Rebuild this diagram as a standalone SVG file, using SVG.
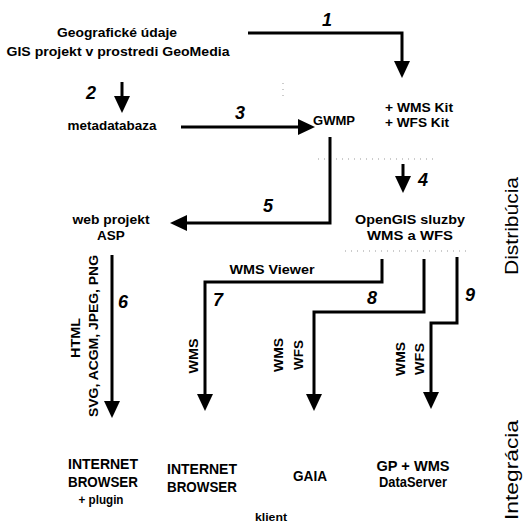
<svg xmlns="http://www.w3.org/2000/svg" width="532" height="524" viewBox="0 0 532 524">
<defs>
<marker id="ah" markerUnits="userSpaceOnUse" markerWidth="18" markerHeight="18" refX="0" refY="8" orient="auto" viewBox="0 0 18 16">
<path d="M0,0 L17,8 L0,16 z" fill="#000"/>
</marker>
<style>
.t{font-family:"Liberation Sans",Arial,sans-serif;font-size:13.5px;font-weight:bold;fill:#000;text-anchor:middle}
.b{font-size:14px}
.s{text-anchor:start}
.k{font-size:12px}
.n{font-family:"Liberation Sans",Arial,sans-serif;font-size:18px;font-weight:bold;font-style:italic;fill:#000;text-anchor:middle}
.side{font-family:"Liberation Sans",Arial,sans-serif;font-size:18px;fill:#000;text-anchor:middle}
.c{fill:none;stroke:#000;stroke-width:3;stroke-linejoin:miter}
.dot{fill:none;stroke:#999;stroke-width:1;stroke-dasharray:1 5}
</style>
</defs>
<rect width="532" height="524" fill="#fff"/>
<g id="faint">
<path class="dot" d="M318,159 H433"/>
<path class="dot" d="M345,251 H470"/>
<path class="dot" d="M283,83 V97"/>
</g>
<g id="connectors">
<path class="c" d="M248,33 H402 V61" marker-end="url(#ah)"/>
<path class="c" d="M122,82 V96" marker-end="url(#ah)"/>
<path class="c" d="M181,127 H298" marker-end="url(#ah)"/>
<path class="c" d="M330,137 V223 H187" marker-end="url(#ah)"/>
<path class="c" d="M403,164 V176" marker-end="url(#ah)"/>
<path class="c" d="M112,255 V401" marker-end="url(#ah)"/>
<path class="c" d="M382,259 V282 H205 V394" marker-end="url(#ah)"/>
<path class="c" d="M424,259 V312 H314 V394" marker-end="url(#ah)"/>
<path class="c" d="M457,257 V323 H431 V392" marker-end="url(#ah)"/>
<text class="n" x="327" y="26">1</text>
<text class="n" x="91" y="99">2</text>
<text class="n" x="240" y="119">3</text>
<text class="n" x="423" y="186">4</text>
<text class="n" x="268" y="212">5</text>
<text class="n" x="123" y="308">6</text>
<text class="n" x="218" y="306">7</text>
<text class="n" x="372" y="304">8</text>
<text class="n" x="470" y="301">9</text>
<text class="t" x="272" y="274" textLength="85" lengthAdjust="spacingAndGlyphs">WMS Viewer</text>
<text class="t" transform="translate(75,338) rotate(-90)" dy="0.35em" textLength="40" lengthAdjust="spacingAndGlyphs">HTML</text>
<text class="t" transform="translate(93,336) rotate(-90)" dy="0.35em" textLength="162" lengthAdjust="spacingAndGlyphs">SVG, ACGM, JPEG, PNG</text>
<text class="t" transform="translate(193,356) rotate(-90)" dy="0.35em" textLength="35" lengthAdjust="spacingAndGlyphs">WMS</text>
<text class="t" transform="translate(278,355) rotate(-90)" dy="0.35em" textLength="34" lengthAdjust="spacingAndGlyphs">WMS</text>
<text class="t" transform="translate(298,355) rotate(-90)" dy="0.35em" textLength="30" lengthAdjust="spacingAndGlyphs">WFS</text>
<text class="t" transform="translate(400,359) rotate(-90)" dy="0.35em" textLength="34" lengthAdjust="spacingAndGlyphs">WMS</text>
<text class="t" transform="translate(419,359) rotate(-90)" dy="0.35em" textLength="32" lengthAdjust="spacingAndGlyphs">WFS</text>
</g>
<g id="geodata">
<text class="t" x="117" y="37" textLength="120" lengthAdjust="spacingAndGlyphs">Geografické údaje</text>
<text class="t" x="118" y="56" textLength="223" lengthAdjust="spacingAndGlyphs">GIS projekt v prostredi GeoMedia</text>
</g>
<g id="metadatabaza"><text class="t" x="112" y="130" textLength="89" lengthAdjust="spacingAndGlyphs">metadatabaza</text></g>
<g id="gwmp"><text class="t" x="334" y="125" textLength="42" lengthAdjust="spacingAndGlyphs">GWMP</text></g>
<g id="kits">
<text class="t s k" x="385" y="112" textLength="68" lengthAdjust="spacingAndGlyphs">+ WMS Kit</text>
<text class="t s k" x="385" y="127" textLength="64" lengthAdjust="spacingAndGlyphs">+ WFS Kit</text>
</g>
<g id="webprojekt">
<text class="t" x="111" y="224" textLength="77" lengthAdjust="spacingAndGlyphs">web projekt</text>
<text class="t" x="111" y="240">ASP</text>
</g>
<g id="opengis">
<text class="t" x="410" y="224" textLength="110" lengthAdjust="spacingAndGlyphs">OpenGIS sluzby</text>
<text class="t" x="410" y="240" textLength="86" lengthAdjust="spacingAndGlyphs">WMS a WFS</text>
</g>
<g id="browser-plugin">
<text class="t b" x="103" y="469" textLength="70" lengthAdjust="spacingAndGlyphs">INTERNET</text>
<text class="t b" x="103" y="487" textLength="70" lengthAdjust="spacingAndGlyphs">BROWSER</text>
<text class="t k" x="101" y="504" textLength="45" lengthAdjust="spacingAndGlyphs">+ plugin</text>
</g>
<g id="browser">
<text class="t b" x="202" y="474" textLength="70" lengthAdjust="spacingAndGlyphs">INTERNET</text>
<text class="t b" x="202" y="492" textLength="70" lengthAdjust="spacingAndGlyphs">BROWSER</text>
</g>
<g id="gaia"><text class="t b" x="310" y="481" textLength="34" lengthAdjust="spacingAndGlyphs">GAIA</text></g>
<g id="gp-wms">
<text class="t b" x="413" y="471" textLength="73" lengthAdjust="spacingAndGlyphs">GP + WMS</text>
<text class="t b" x="413" y="487" textLength="68" lengthAdjust="spacingAndGlyphs">DataServer</text>
</g>
<g id="klient"><text class="t" x="271" y="521" style="font-size:11.5px" textLength="32" lengthAdjust="spacingAndGlyphs">klient</text></g>
<g id="distribucia"><text class="side" transform="translate(512,226) rotate(-90)" dy="0.35em" textLength="98" lengthAdjust="spacingAndGlyphs">Distribúcia</text></g>
<g id="integracia"><text class="side" transform="translate(512,470) rotate(-90)" dy="0.35em" textLength="100" lengthAdjust="spacingAndGlyphs">Integrácia</text></g>
</svg>
